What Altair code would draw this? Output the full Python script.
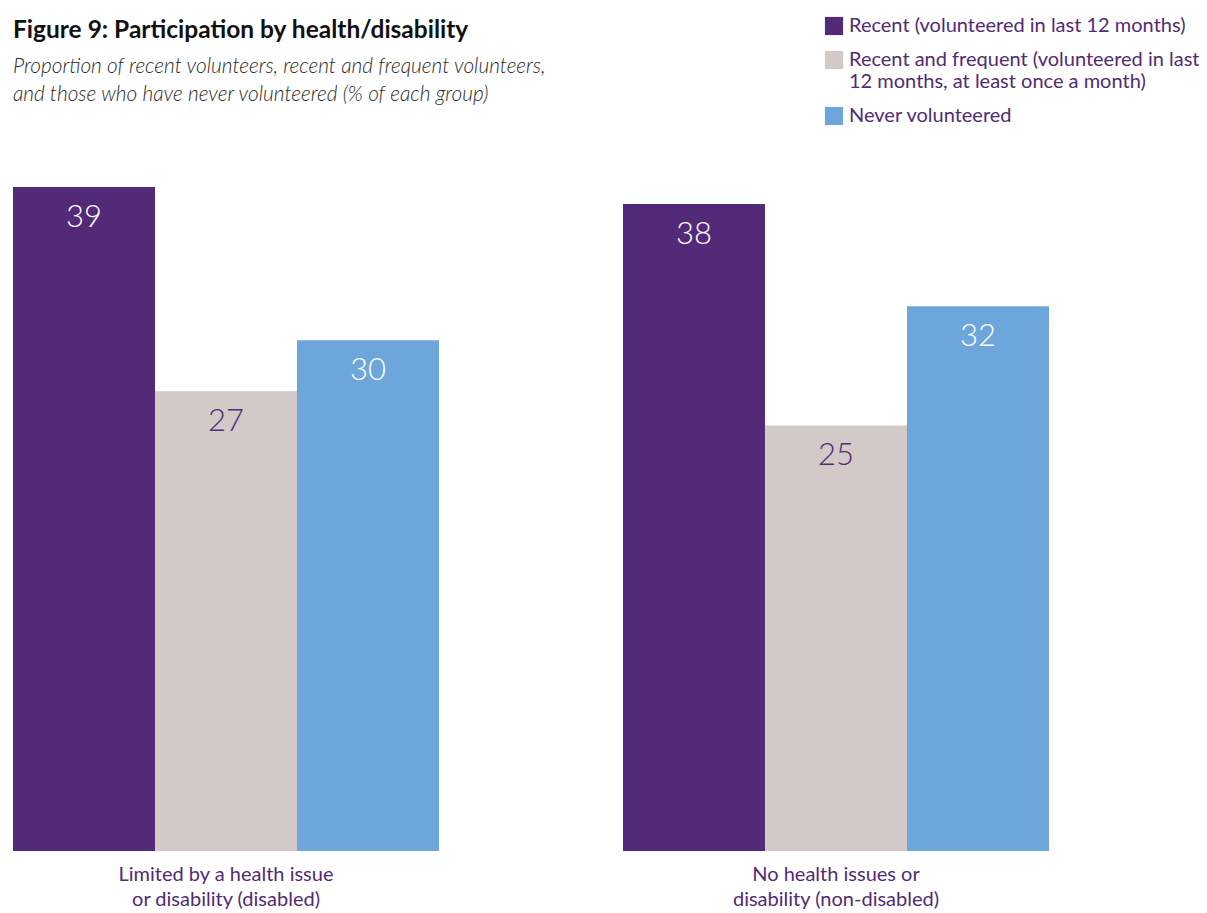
import altair as alt
import pandas as pd

groups = ["Limited by a health issue or disability (disabled)",
          "No health issues or disability (non-disabled)"]
series = ["Recent (volunteered in last 12 months)",
          "Recent and frequent (volunteered in last 12 months, at least once a month)",
          "Never volunteered"]
values = {
    groups[0]: [39, 27, 30],
    groups[1]: [38, 25, 32],
}
colors = ["#522a77", "#d3c9c7", "#6ca6da"]
text_colors = ["#ffffff", "#522a77", "#ffffff"]

rows = []
for g in groups:
    for i, s in enumerate(series):
        rows.append({"group": g, "series": s, "value": values[g][i],
                     "tcolor": text_colors[i]})
df = pd.DataFrame(rows)

FONT = "Lato"
PURPLE = "#522a77"

x_enc = alt.X("group:N", sort=groups,
              scale=alt.Scale(paddingInner=0.3016, paddingOuter=0),
              axis=alt.Axis(title=None, ticks=False, domain=False,
                            labelAngle=0, labelFontSize=20, labelColor=PURPLE,
                            labelFont=FONT, labelPadding=13, labelLineHeight=25,
                            labelLimit=500,
                            labelExpr="datum.label == '" + groups[0] + "' ? ['Limited by a health issue', 'or disability (disabled)'] : ['No health issues or', 'disability (non-disabled)']"))
xo = alt.XOffset("series:N", sort=series, scale=alt.Scale(paddingInner=0, paddingOuter=0))
y_enc = alt.Y("value:Q", scale=alt.Scale(domain=[0, 40]), axis=None)

bars = alt.Chart(df).mark_bar().encode(
    x=x_enc, xOffset=xo, y=y_enc,
    color=alt.Color("series:N", sort=series,
                    scale=alt.Scale(domain=series, range=colors),
                    legend=alt.Legend(title=None, orient="none", legendX=811, legendY=-154,
                                      symbolType="square", symbolSize=330,
                                      symbolStrokeWidth=0,
                                      labelFontSize=20, labelColor=PURPLE, labelFont=FONT,
                                      labelOffset=5, rowPadding=14, labelLimit=500,
                                      labelExpr="datum.label == '" + series[1] + "' ? ['Recent and frequent (volunteered in last', '12 months, at least once a month)'] : datum.label")),
)

labels = alt.Chart(df).mark_text(baseline="top", dy=16, fontSize=31, font=FONT,
                                 fontWeight=300).encode(
    x=x_enc, xOffset=xo, y=y_enc,
    text=alt.Text("value:Q"),
    color=alt.Color("tcolor:N", scale=None, legend=None),
)

chart = alt.layer(bars, labels).properties(
    width=1036, height=681,
    autosize=alt.AutoSizeParams(type="none"),
    padding={"left": 5, "top": 162, "right": 150, "bottom": 70},
    title=alt.TitleParams(
        text="Figure 9: Participation by health/disability",
        subtitle=["Proportion of recent volunteers, recent and frequent volunteers,",
                  "and those who have never volunteered (% of each group)"],
        anchor="start", frame="group", offset=-90,
        font=FONT, fontSize=24.5, fontWeight="bold", color="#111111",
        subtitleFont=FONT, subtitleFontSize=20.8, subtitleFontStyle="italic",
        subtitleFontWeight=300,
        subtitleColor="#2a2a2a", subtitlePadding=14, subtitleLineHeight=28,
    ),
).configure_view(stroke=None)

chart.save("out.html", embed_options={"renderer": "svg", "actions": False})
